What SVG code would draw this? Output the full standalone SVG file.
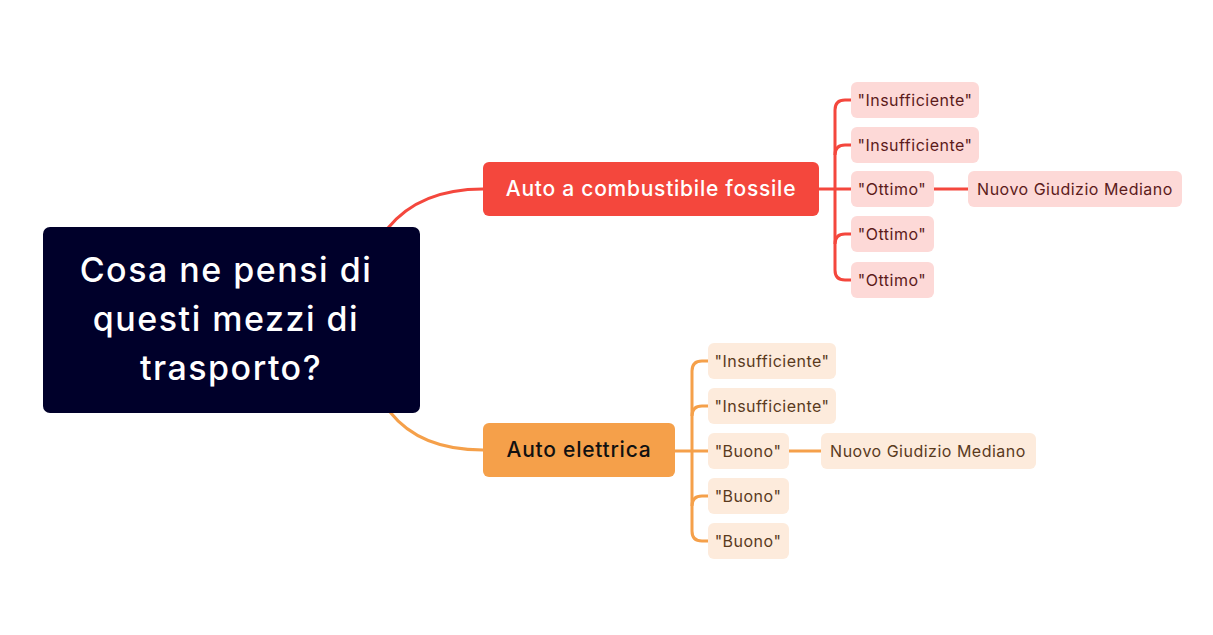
<svg xmlns="http://www.w3.org/2000/svg" width="1213" height="635" viewBox="0 0 1213 635">
<style>
text{font-family:Inter,"Noto Sans","Liberation Sans",sans-serif;text-anchor:middle}
.root{fill:#00002a}
.rt{fill:#fff;font-size:34px;font-weight:500;letter-spacing:1.5px}
.b1{fill:#f4473d}
.b2{fill:#f5a04a}
.bt1{fill:#fff;font-size:21px;font-weight:500;letter-spacing:0.75px}
.bt2{fill:#111;font-size:21px;font-weight:500;letter-spacing:0.75px}
.c1{fill:#fdd9d7}
.c2{fill:#fdebdc}
.ct1{fill:#5c1b1b;font-size:16px;letter-spacing:0.5px}
.ct2{fill:#5a3a1c;font-size:16px;letter-spacing:0.5px}
.l1{fill:none;stroke:#f4473d;stroke-width:3}
.l2{fill:none;stroke:#f5a04a;stroke-width:3}
</style>
<rect width="1213" height="635" fill="#fff"/>
<g id="connectors">
<path class="l1" d="M388 228 Q420 189 483 189"/>
<path class="l2" d="M390 412 Q420 450 483 450"/>
<path class="l1" d="M819 189 H851 M835 189 V110 Q835 100 845 100 H851 M835 180 V270 Q835 280 845 280 H851 M934 189 H968"/>
<path class="l1" d="M835 155 Q835 145 845 145 H851 M835 244 Q835 234 845 234 H851"/>
<path class="l2" d="M675 451 H708 M692 451 V371 Q692 361 702 361 H708 M692 451 V531 Q692 541 702 541 H708 M789 451 H821"/>
<path class="l2" d="M692 416 Q692 406 702 406 H708 M692 506 Q692 496 702 496 H708"/>
</g>
<g id="root"><rect class="root" x="43" y="227" width="377" height="186" rx="7"/>
<text class="rt" x="226" y="282">Cosa ne pensi di</text>
<text class="rt" x="226" y="331">questi mezzi di</text>
<text class="rt" x="231" y="380">trasporto?</text></g>
<g id="b1"><rect class="b1" x="483" y="162" width="336" height="54" rx="6"/><text class="bt1" x="651" y="196">Auto a combustibile fossile</text></g>
<g id="b2"><rect class="b2" x="483" y="423" width="192" height="54" rx="6"/><text class="bt2" x="579" y="457">Auto elettrica</text></g>
<g id="r1"><rect class="c1" x="851" y="82" width="128" height="36" rx="6"/><text class="ct1" x="915" y="106">"Insufficiente"</text></g>
<g id="r2"><rect class="c1" x="851" y="127" width="128" height="36" rx="6"/><text class="ct1" x="915" y="151">"Insufficiente"</text></g>
<g id="r3"><rect class="c1" x="851" y="171" width="83" height="36" rx="6"/><text class="ct1" x="892" y="195">"Ottimo"</text></g>
<g id="r3a"><rect class="c1" x="968" y="171" width="214" height="36" rx="6"/><text class="ct1" x="1075" y="195">Nuovo Giudizio Mediano</text></g>
<g id="r4"><rect class="c1" x="851" y="216" width="83" height="36" rx="6"/><text class="ct1" x="892" y="240">"Ottimo"</text></g>
<g id="r5"><rect class="c1" x="851" y="262" width="83" height="36" rx="6"/><text class="ct1" x="892" y="286">"Ottimo"</text></g>
<g id="o1"><rect class="c2" x="708" y="343" width="128" height="36" rx="6"/><text class="ct2" x="772" y="367">"Insufficiente"</text></g>
<g id="o2"><rect class="c2" x="708" y="388" width="128" height="36" rx="6"/><text class="ct2" x="772" y="412">"Insufficiente"</text></g>
<g id="o3"><rect class="c2" x="708" y="433" width="81" height="36" rx="6"/><text class="ct2" x="748" y="457">"Buono"</text></g>
<g id="o3a"><rect class="c2" x="821" y="433" width="215" height="36" rx="6"/><text class="ct2" x="928" y="457">Nuovo Giudizio Mediano</text></g>
<g id="o4"><rect class="c2" x="708" y="478" width="81" height="36" rx="6"/><text class="ct2" x="748" y="502">"Buono"</text></g>
<g id="o5"><rect class="c2" x="708" y="523" width="81" height="36" rx="6"/><text class="ct2" x="748" y="547">"Buono"</text></g>
</svg>
